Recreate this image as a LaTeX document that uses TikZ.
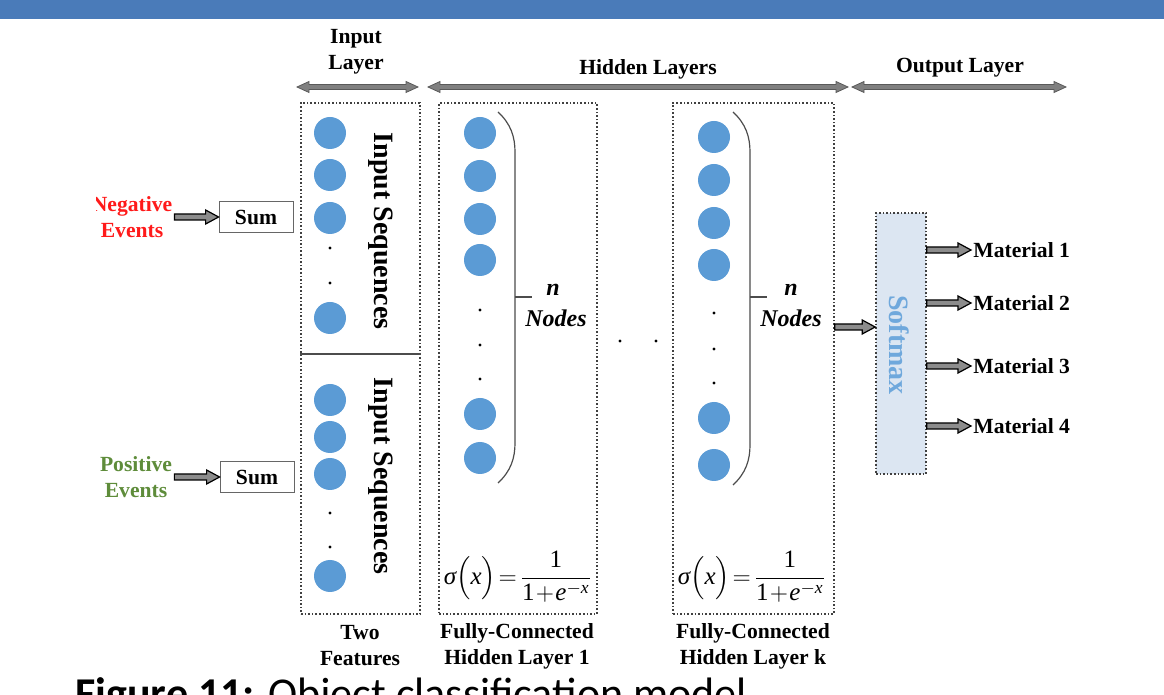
\documentclass[tikz,border=0pt]{standalone}
\usepackage{fontspec}
\setmainfont{Liberation Serif}
\newfontfamily\capfont{Carlito}
\usepackage{amsmath}
\usetikzlibrary{calc}
\definecolor{barblue}{HTML}{4A7BB9}
\definecolor{neuron}{HTML}{5B9BD5}
\definecolor{softbg}{HTML}{DCE6F2}
\definecolor{softtext}{HTML}{6FA8DC}
\definecolor{negred}{HTML}{FF1A1A}
\definecolor{posgreen}{HTML}{5E8C3A}

\tikzset{
  unit/.style={circle, fill=neuron, minimum size=16pt, inner sep=0pt},
  dotnode/.style={circle, fill=black, minimum size=1.6pt, inner sep=0pt},
  layerbox/.style={draw=black!75, densely dotted, line width=0.8pt, inner sep=0pt},
  lbl/.style={font=\fontsize{10.8}{13}\selectfont\bfseries, align=center, inner sep=1pt},
  seq/.style={font=\fontsize{14}{16}\selectfont\bfseries, inner sep=0pt},
  nodes lbl/.style={font=\fontsize{12}{14}\selectfont\bfseries\itshape, inner sep=0pt},
  sumbox/.style={draw=black!60, fill=white, minimum width=37pt, minimum height=15.5pt,
    inner sep=0pt, font=\fontsize{10.8}{13}\selectfont\bfseries},
  sigmoid/.style={inner sep=0pt, font=\fontsize{12.5}{15}\selectfont},
  fat/.style={fill=black!45, draw=black, line width=0.6pt},
  span/.style={fill=black!50, draw=black!65, line width=0.4pt},
  brace/.style={draw=black!70, line width=0.6pt}
}
% block arrow, tail at the x of #1, tip at #2
\newcommand{\fatarrow}[2]{%
  \filldraw[fat] ($(#1 |- #2)+(0,-3)$) -- ($(#2)+(-13,-3)$) -- ($(#2)+(-13,-7)$) -- (#2)
    -- ($(#2)+(-13,7)$) -- ($(#2)+(-13,3)$) -- ($(#1 |- #2)+(0,3)$) -- cycle;}
% double headed span arrow
\newcommand{\spanarrow}[2]{%
  \filldraw[span] (#1) -- ++(12,-5.5) -- ++(0,3) -- ($(#2)+(-12,-2.5)$) -- ++(0,-3) -- (#2)
    -- ++(-12,5.5) -- ++(0,-3) -- ($(#1)+(12,2.5)$) -- ++(0,3) -- cycle;}
% sigmoid in Times letters
\newcommand{\sigfun}{$\text{\itshape σ}\Bigl(\text{\itshape x}\Bigr)\!=\!
  \dfrac{\text{1}}{\text{1}\!+\!\text{\itshape e}^{-\text{\itshape x}}}$}

\begin{document}
\begin{tikzpicture}[x=0.5pt,y=-0.5pt]
\useasboundingbox (0,0) rectangle (1164,695);
% Top bar
\fill[barblue] (0,0) rectangle (1164,19);

% Layer titles
\node[lbl] (tin) at (356,52) {Input\\Layer};
\node[lbl] (thid) at (648,69) {Hidden Layers};
\node[lbl] (tout) at (960,68) {Output Layer};
\coordinate (inL) at (297,87);
\coordinate (inR) at (418,87);
\coordinate (hidL) at (428,87);
\coordinate (hidR) at (848,87);
\coordinate (outL) at (852,87);
\coordinate (outR) at (1066,87);
\spanarrow{inL}{inR}
\spanarrow{hidL}{hidR}
\spanarrow{outL}{outR}

% Event inputs
\begin{scope}
\clip (96,150) rectangle (300,560);
\node[lbl, text=negred] (neg) at (132,217) {Negative\\Events};
\node[lbl, text=posgreen] (pos) at (136,477) {Positive\\Events};
\end{scope}
\node[sumbox] (negsum) at (256,217) {Sum};
\node[sumbox] (possum) at (257,477) {Sum};
\fatarrow{neg.east}{negsum.west}
\fatarrow{pos.east}{possum.west}

% Input layer
\node[layerbox, minimum width=59.5pt, minimum height=255.5pt] (inbox) at (360.5,358.5) {};
\draw[black!70, line width=0.7pt] (inbox.west |- 0,354) -- (inbox.east |- 0,354);
\foreach \y [count=\i] in {133,175,218,318} \node[unit] (ia\i) at (330,\y) {};
\foreach \y [count=\i] in {248,283} \node[dotnode] (iad\i) at (330,\y) {};
\foreach \y [count=\i] in {400,437,474,576} \node[unit] (ib\i) at (330,\y) {};
\foreach \y [count=\i] in {513,547} \node[dotnode] (ibd\i) at (330,\y) {};
\node[seq, rotate=-90] (seqa) at (381,231) {Input Sequences};
\node[seq, rotate=-90] (seqb) at (381,476) {Input Sequences};
\node[lbl] (feat) at (360,646) {Two\\Features};

% Hidden layer 1
\node[layerbox, minimum width=79pt, minimum height=255.5pt] (h1) at (518,358.5) {};
\foreach \y [count=\i] in {133,176,219,260,414,458} \node[unit] (ha\i) at (480,\y) {};
\foreach \y [count=\i] in {310,345,379} \node[dotnode] (had\i) at (480,\y) {};
\draw[brace] (498,112) .. controls (511,124) and (515,137) .. (515,152) -- (515,443)
  .. controls (515,458) and (511,471) .. (498,483);
\draw[brace] (515,297) -- (532,297);
\node[nodes lbl] (na) at (553,290) {n};
\node[nodes lbl] (nodesa) at (556,318) {Nodes};
\node[sigmoid] (siga) at (518,577) {\sigfun};
\node[lbl] (fca) at (517,646) {Fully-Connected\\Hidden Layer 1};

% Gap dots
\node[dotnode] (gap1) at (620,341) {};
\node[dotnode] (gap2) at (656,341) {};

% Hidden layer k
\node[layerbox, minimum width=80.5pt, minimum height=255.5pt] (hk) at (753.5,358.5) {};
\foreach \y [count=\i] in {137,180,223,265,418,465} \node[unit] (hb\i) at (714,\y) {};
\foreach \y [count=\i] in {313,349,383} \node[dotnode] (hbd\i) at (714,\y) {};
\draw[brace] (733,112) .. controls (746,124) and (750,137) .. (750,152) -- (750,445)
  .. controls (750,460) and (746,473) .. (733,485);
\draw[brace] (750,297) -- (767,297);
\node[nodes lbl] (nb) at (791,290) {n};
\node[nodes lbl] (nodesb) at (791,318) {Nodes};
\node[sigmoid] (sigb) at (752,577) {\sigfun};
\node[lbl] (fcb) at (753,646) {Fully-Connected\\Hidden Layer k};

% Output layer
\node[layerbox, fill=softbg, minimum width=25pt, minimum height=130.5pt] (soft) at (901,343.5) {};
\node[seq, rotate=-90, text=softtext] (softlbl) at (899,345) {Softmax};
\coordinate (softin) at (soft.west |- 0,327);
\fatarrow{hk.east}{softin}
\foreach \y/\k in {250/1,303/2,366/3,426/4}{
  \node[lbl, anchor=west] (m\k) at (971,\y) {Material \k};
  \fatarrow{soft.east}{m\k.west}
}

% Caption
\node[anchor=base west, inner sep=0pt, font=\capfont\fontsize{22}{26}\selectfont] (cap) at (75,709)
  {\textbf{Figure 11:} Object classification model};
\end{tikzpicture}
\end{document}
